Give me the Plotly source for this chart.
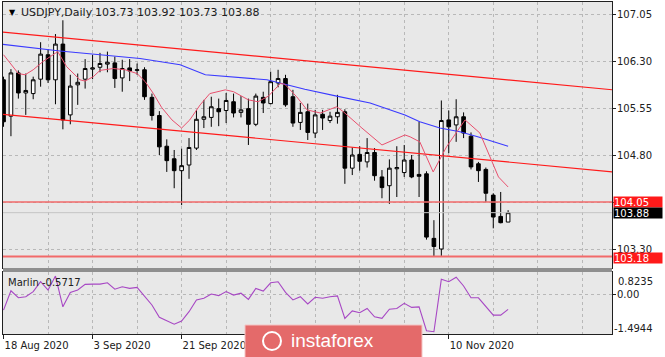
import plotly.graph_objects as go
import pandas as pd

# ---------------- data ----------------
dates = pd.bdate_range("2020-08-18", periods=69)
bar_idx = list(range(69))

opens = [106.00,105.42,106.11,105.79,105.78,106.01,106.40,106.00,106.57,105.44,
         105.92,106.01,106.17,106.20,106.25,106.27,106.03,106.19,106.15,106.16,
         105.72,105.43,104.94,104.74,104.55,104.64,104.91,105.37,105.40,105.54,
         105.51,105.65,105.48,105.54,105.29,105.72,105.62,105.95,106.02,105.73,
         105.32,105.49,105.15,105.45,105.35,105.41,105.49,104.59,104.81,104.69,
         104.84,104.45,104.31,104.58,104.52,104.72,104.49,104.50,103.47,103.30,
         105.36,105.28,105.41,105.10,104.66,104.57,104.16,103.82,103.73]
highs = [106.05,106.17,106.15,106.10,106.05,106.60,106.49,106.73,106.95,106.08,
         106.10,106.33,106.40,106.43,106.45,106.37,106.32,106.33,106.26,106.20,
         105.78,105.50,105.05,104.88,104.90,105.07,105.52,105.68,105.73,105.70,
         105.79,105.78,105.74,105.70,105.78,105.81,106.13,106.16,106.08,105.84,
         105.63,105.62,105.52,105.52,105.49,105.76,105.53,104.92,104.94,105.07,
         104.91,104.56,104.73,104.94,104.96,104.80,105.33,104.54,103.76,105.67,
         105.51,105.69,105.48,105.16,104.69,104.60,104.19,104.21,103.92]
lows = [105.25,105.10,105.70,105.44,105.69,105.89,105.95,105.61,105.21,105.29,
        105.60,105.86,106.01,106.12,106.12,105.87,105.81,105.98,106.08,105.68,
        105.35,104.80,104.53,104.27,104.00,104.42,104.88,105.23,105.25,105.26,
        105.31,105.40,105.40,104.96,105.26,105.47,105.61,105.88,105.57,105.25,
        105.20,105.04,105.07,105.20,105.31,105.30,104.34,104.48,104.55,104.60,
        104.39,104.11,104.02,104.13,104.45,104.43,104.13,103.45,103.18,103.19,
        104.83,105.01,105.07,104.57,104.37,104.05,103.63,103.71,103.73]
closes = [105.33,106.11,105.79,105.83,106.00,106.41,106.00,106.57,105.36,105.90,
          105.96,106.18,106.19,106.26,106.28,106.02,106.18,106.14,106.16,105.73,
          105.43,104.93,104.71,104.55,104.63,104.92,105.37,105.41,105.57,105.49,
          105.67,105.47,105.52,105.29,105.74,105.63,105.97,106.02,105.60,105.31,
          105.48,105.16,105.44,105.39,105.42,105.48,104.59,104.80,104.70,104.84,
          104.47,104.28,104.59,104.60,104.72,104.45,104.46,103.49,103.34,105.35,
          105.25,105.41,105.15,104.61,104.55,104.19,103.81,103.72,103.88]

# fast moving average (pink): (bar position, price)
fast_ma_x = [0,2.0,2.9,4.0,5.3,6.9,7.3,8.5,10.3,11.0,12.1,13.0,14.8,16.4,18.0,19.1,20.2,
             21.3,22.7,24.0,25.1,26.5,27.8,29.9,31.0,33.0,34.3,35.7,37.3,37.9,39.5,40.9,
             42.7,44.9,45.8,48.3,51.0,54.1,54.8,56.1,57.9,59.7,62.2,64.2,65.6,66.7,68.0]
fast_ma_y = [106.40,106.10,106.08,106.16,106.29,106.42,106.45,106.21,106.00,105.98,106.05,
             106.15,106.18,106.16,106.10,105.97,105.78,105.56,105.36,105.23,105.36,105.60,
             105.78,105.84,105.81,105.68,105.65,105.74,105.94,105.93,105.73,105.52,105.47,
             105.57,105.49,105.23,104.96,105.12,105.09,105.01,104.53,104.93,105.36,105.15,
             104.75,104.45,104.29]

# slow moving average (blue)
slow_ma_x = [-0.47,7.6,13.0,18.4,23.8,27.2,35.5,40.6,44.9,49.4,54.1,56.1,58.8,61.5,63.9,68.0]
slow_ma_y = [106.57,106.46,106.40,106.34,106.24,106.08,106.00,105.85,105.74,105.63,105.44,
             105.33,105.23,105.17,105.09,104.94]

# channel lines
upper_x = [-1, 83]
upper_y = [106.77, 105.83]
lower_x = [-1, 83]
lower_y = [105.46, 104.52]

level_1 = 104.05
level_2 = 103.18
last_price = 103.88

# Marlin oscillator
marlin = [-0.60,0.12,-0.14,-0.10,0.09,0.46,0.15,0.67,-0.48,0.06,
          0.15,0.36,0.37,0.37,0.42,0.18,0.27,0.21,0.25,-0.10,
          -0.41,-0.87,-1.01,-1.13,-1.01,-0.66,-0.22,-0.16,0.00,-0.06,
          0.09,-0.04,0.03,-0.20,0.21,0.11,0.42,0.46,0.06,-0.22,
          -0.10,-0.37,-0.12,-0.16,-0.10,-0.07,-0.91,-0.63,-0.70,-0.54,
          -0.85,-0.91,-0.57,-0.54,-0.35,-0.50,-0.48,-1.37,-1.41,0.55,
          0.46,0.63,0.30,-0.14,-0.14,-0.48,-0.79,-0.79,-0.5717]

price_ticks = [107.05, 106.30, 105.55, 104.80, 104.05, 103.30]
# 104.05 is shown by the red price box on the axis instead
price_tick_text = ["107.05", "106.30", "105.55", "104.80", "", "103.30"]
date_tick_idx = [0, 12, 24, 36, 48, 60]
# labels of 7 Oct and 23 Oct are hidden under the badge in the reference
date_tick_text = ["18 Aug 2020", "3 Sep 2020", "21 Sep 2020", "", "", "10 Nov 2020"]
grid_minor_idx = [6, 18, 30, 42, 54, 66, 72, 78]
marlin_max, marlin_min = 0.8235, -1.4944

# ---------------- figure ----------------
W, H = 665, 357
ML, MR, MT, MB = 3, 53, 2, 23
PW, PH = W - ML - MR, H - MT - MB
def px(x):  # pixel -> paper x
    return (x - ML) / PW
def py(y):  # pixel -> paper y
    return (H - MB - y) / PH

FONT = "DejaVu Sans"
grid_col = "#b8b8b8"

fig = go.Figure()

fig.add_trace(go.Scatter(x=upper_x, y=upper_y, mode="lines",
                         line=dict(color="#ff1a1a", width=1.2), xaxis="x", yaxis="y"))
fig.add_trace(go.Scatter(x=lower_x, y=lower_y, mode="lines",
                         line=dict(color="#ff1a1a", width=1.2), xaxis="x", yaxis="y"))
fig.add_trace(go.Scatter(x=[-1, 83], y=[last_price, last_price], mode="lines",
                         line=dict(color="#c4c4c4", width=1), xaxis="x", yaxis="y"))
fig.add_trace(go.Scatter(x=[-1, 83], y=[level_1, level_1], mode="lines",
                         line=dict(color="#f26a6a", width=1.5), xaxis="x", yaxis="y"))
fig.add_trace(go.Scatter(x=[-1, 83], y=[level_2, level_2], mode="lines",
                         line=dict(color="#f26a6a", width=2), xaxis="x", yaxis="y"))
fig.add_trace(go.Scatter(x=slow_ma_x, y=slow_ma_y, mode="lines",
                         line=dict(color="#3a3aff", width=1.1), xaxis="x", yaxis="y"))
fig.add_trace(go.Scatter(x=fast_ma_x, y=fast_ma_y, mode="lines",
                         line=dict(color="#e8506e", width=1), xaxis="x", yaxis="y"))

fig.add_trace(go.Candlestick(
    x=bar_idx, open=opens, high=highs, low=lows, close=closes,
    increasing=dict(line=dict(color="#000000", width=1), fillcolor="#ffffff"),
    decreasing=dict(line=dict(color="#000000", width=1), fillcolor="#000000"),
    whiskerwidth=0, xaxis="x", yaxis="y"))

fig.add_trace(go.Scatter(x=bar_idx, y=marlin, mode="lines",
                         line=dict(color="#a747c4", width=1.1), xaxis="x2", yaxis="y2"))

xr = [-0.07, 82.0]
main_dom = [py(268), 1]
sub_dom = [0, py(272)]

axis_common = dict(showline=True, linecolor="#202020", linewidth=1, mirror=True, zeroline=False)

fig.update_layout(
    width=W, height=H, margin=dict(l=ML, r=MR, t=MT, b=MB),
    paper_bgcolor="#ffffff", plot_bgcolor="#e8e8e8",
    showlegend=False, hovermode=False,
    font=dict(family=FONT, size=10, color="#202020"),
    xaxis=dict(domain=[0, 1], anchor="y", range=xr, showticklabels=False,
               tickmode="array", tickvals=date_tick_idx, ticks="",
               showgrid=True, gridcolor=grid_col, griddash="3px,3px", gridwidth=1,
               minor=dict(tickmode="array", tickvals=grid_minor_idx, showgrid=True,
                          gridcolor=grid_col, griddash="3px,3px", gridwidth=1),
               rangeslider=dict(visible=False), **axis_common),
    yaxis=dict(domain=main_dom, anchor="x", side="right", range=[102.997, 107.2415],
               tickmode="array", tickvals=price_ticks, ticktext=price_tick_text,
               ticks="outside", ticklen=3, tickcolor="#202020", ticklabelstandoff=-1,
               showgrid=True, gridcolor=grid_col, griddash="3px,3px",
               tickfont=dict(family=FONT, size=10, color="#202020"), **axis_common),
    xaxis2=dict(domain=[0, 1], anchor="y2", range=xr, matches="x",
                tickmode="array", tickvals=date_tick_idx, ticktext=date_tick_text,
                ticks="outside", ticklen=4, tickcolor="#202020",
                ticklabelposition="outside right", ticklabelstandoff=2,
                tickfont=dict(family=FONT, size=10, color="#202020"),
                showgrid=True, gridcolor=grid_col, griddash="3px,3px",
                minor=dict(tickmode="array", tickvals=grid_minor_idx, showgrid=True,
                           gridcolor=grid_col, griddash="3px,3px"),
                **axis_common),
    yaxis2=dict(domain=sub_dom, anchor="x2", side="right", range=[marlin_min, marlin_max],
                tickmode="array", tickvals=[0], ticktext=["0.00"],
                ticks="outside", ticklen=3, tickcolor="#202020", ticklabelstandoff=-1,
                showgrid=True, gridcolor=grid_col, griddash="3px,3px",
                tickfont=dict(family=FONT, size=10, color="#202020"), **axis_common),
)

shapes = []
# separator between panels
shapes.append(dict(type="rect", xref="paper", yref="paper", x0=0, x1=1,
                   y0=py(272), y1=py(268), fillcolor="#8f8f8f", line=dict(width=0), layer="above"))
# instaforex badge
shapes.append(dict(type="rect", xref="paper", yref="paper", x0=px(245), x1=px(422),
                   y0=py(358), y1=py(325), fillcolor="#e46a6a",
                   line=dict(color="#f4c4c4", width=1), layer="above"))
shapes.append(dict(type="circle", xref="paper", yref="paper", x0=px(263), x1=px(281),
                   y0=py(350), y1=py(332), fillcolor="rgba(0,0,0,0)",
                   line=dict(color="#ffffff", width=2), layer="above"))
fig.update_layout(shapes=shapes)

ann = []
ann.append(dict(text="▼", xref="paper", yref="paper", x=px(7), y=py(12), xanchor="left",
                yanchor="middle", showarrow=False, font=dict(size=8, color="#000000", family=FONT)))
ann.append(dict(text="USDJPY,Daily", xref="paper", yref="paper", x=px(19), y=py(12), xanchor="left",
                yanchor="middle", showarrow=False, font=dict(size=11, color="#202020", family=FONT)))
ann.append(dict(text="103.73 103.92 103.73 103.88", xref="paper", yref="paper", x=px(93), y=py(12),
                xanchor="left", yanchor="middle", showarrow=False,
                font=dict(size=11, color="#202020", family=FONT)))
ann.append(dict(text="Marlin -0.5717", xref="paper", yref="paper", x=px(6), y=py(282),
                xanchor="left", yanchor="middle", showarrow=False,
                font=dict(size=10, color="#202020", family=FONT)))
# marlin extreme labels
ann.append(dict(text="0.8235", xref="paper", yref="paper", x=px(616), y=py(281),
                xanchor="left", yanchor="middle", showarrow=False,
                font=dict(size=10, color="#202020", family=FONT)))
ann.append(dict(text="-1.4944", xref="paper", yref="paper", x=px(612), y=py(328),
                xanchor="left", yanchor="middle", showarrow=False,
                font=dict(size=10, color="#202020", family=FONT)))
# price boxes
for val, bg, ys in [(level_1, "#ff1a1a", 0), (last_price, "#000000", 0), (level_2, "#ff1a1a", -1)]:
    ann.append(dict(text=f"{val:.2f}", xref="paper", yref="y", x=px(613), y=val, yshift=ys,
                    xanchor="left", yanchor="middle", showarrow=False, bgcolor=bg,
                    width=48, height=10, align="left", borderpad=0,
                    font=dict(size=10, color="#ffffff", family=FONT)))
ann.append(dict(text="instaforex", xref="paper", yref="paper", x=px(289), y=py(340),
                xanchor="left", yanchor="middle", showarrow=False,
                font=dict(size=19, color="#ffffff", family="Liberation Sans")))
fig.update_layout(annotations=ann)

fig.write_html("out.html", config={"displayModeBar": False},
               post_script="document.body.style.margin='0';")
